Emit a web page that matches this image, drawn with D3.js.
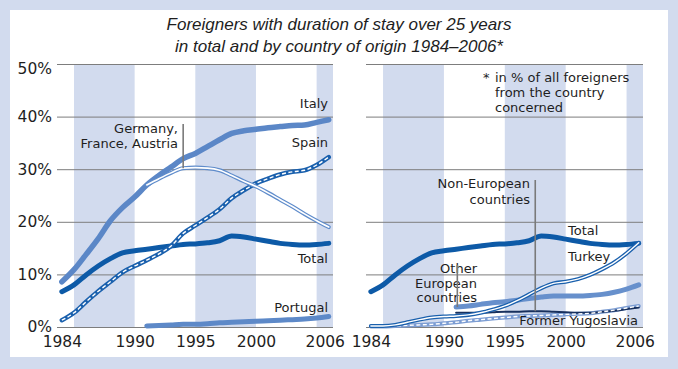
<!DOCTYPE html>
<html>
<head>
<meta charset="utf-8">
<script src="https://cdn.jsdelivr.net/npm/d3@7/dist/d3.min.js"></script>
<style>
body { margin: 0; background: #d2dbee; }
text { font-family: "DejaVu Sans", sans-serif; fill: #1e1e1e; }
</style>
</head>
<body>
<svg id="chart" width="678" height="369"></svg>
<script>
// data (percent of all foreigners from the country)
var years   = [1984,1985,1986,1987,1988,1989,1990,1991,1992,1993,1994,1995,1996,1997,1998,1999,2000,2001,2002,2003,2004,2005,2006];
var years91 = [1991,1992,1993,1994,1995,1996,1997,1998,1999,2000,2001,2002,2003,2004,2005,2006];
var yearTicks = [1984,1990,1995,2000,2006];
var pctTicks  = [0,10,20,30,40,50];
var bandStart = [1985,1995,2005];
var bandEnd   = [1990,2000,2006.35];

var italy    = [8.6,10.9,13.8,16.8,20.2,22.7,24.7,27.0,28.8,30.4,32.0,33.0,34.3,35.6,36.8,37.3,37.6,37.9,38.1,38.3,38.4,38.9,39.4];
var germany  = [27.0,28.2,29.3,30.2,30.3,30.2,29.8,28.8,27.7,26.7,25.5,24.2,22.9,21.5,20.2,19.0]; // Germany, France, Austria (from 1991)
var spain    = [1.3,2.7,4.8,6.8,8.6,10.4,11.6,12.7,13.9,15.4,17.8,19.3,20.8,22.4,24.5,26.0,27.3,28.2,29.0,29.5,29.8,30.8,32.3];
var total    = [6.7,8.0,9.9,11.6,13.0,14.1,14.5,14.8,15.1,15.4,15.7,15.8,16.0,16.4,17.3,17.1,16.7,16.3,15.9,15.7,15.6,15.7,15.9];
var portugal = [0.2,0.3,0.4,0.5,0.5,0.6,0.8,0.9,1.0,1.1,1.2,1.3,1.4,1.5,1.7,2.0]; // from 1991

var turkey   = [0.2,0.2,0.4,0.9,1.4,1.8,2.0,2.1,2.3,2.7,3.3,4.0,5.0,6.2,7.4,8.3,8.6,9.1,9.9,11.0,12.3,14.0,16.0];
var otherEur = [3.8,4.0,4.3,4.6,4.8,5.1,5.4,5.7,5.9,5.9,5.9,6.0,6.2,6.6,7.2,8.0]; // from 1991
var nonEur   = [2.7,2.7,2.7,2.8,2.9,2.9,3.0,3.0,2.9,2.8,2.7,2.7,2.9,3.1,3.4,3.7]; // from 1991
var yugo     = [0.1,0.1,0.2,0.3,0.4,0.5,0.7,0.9,1.2,1.4,1.6,1.8,2.0,2.1,2.2,2.3,2.4,2.5,2.6,2.9,3.2,3.6,4.0];

var svg = d3.select("#chart");
var bandColor = "#d2dbee";

// white inner card
svg.append("rect").attr("x", 10).attr("y", 10).attr("width", 658).attr("height", 347).attr("fill", "#fff");

// title
var title = svg.append("text")
  .attr("text-anchor", "middle")
  .style("font-family", "'Liberation Sans', sans-serif")
  .style("font-style", "italic")
  .style("font-size", "17px")
  .attr("fill", "#111");
title.append("tspan").attr("x", 339).attr("y", 30).text("Foreigners with duration of stay over 25 years");
title.append("tspan").attr("x", 339).attr("y", 52).text("in total and by country of origin 1984–2006*");

var y = d3.scaleLinear().domain([0, 50]).range([327, 64]);
var xL = d3.scaleLinear().domain([1983.6, 2006.35]).range([57, 333]);
var xR = d3.scaleLinear().domain([1983.6, 2006.35]).range([366, 643]);

function panel(x, labels) {
  var g = svg.append("g");
  var w = x.range()[1] - x.range()[0];

  g.selectAll(".band")
    .data(bandStart)
    .enter().append("rect")
      .attr("class", "band")
      .attr("x", function(d) { return x(d); })
      .attr("y", y(50))
      .attr("width", function(d, i) { return x(bandEnd[i]) - x(d); })
      .attr("height", y(0) - y(50))
      .attr("fill", bandColor);

  var ax = g.append("g")
    .attr("transform", "translate(" + x.range()[0] + ",0)")
    .call(d3.axisLeft(y).tickValues(pctTicks).tickSize(-w).tickPadding(5)
      .tickFormat(labels ? function(d) { return d + "%"; } : ""));
  ax.select(".domain").remove();
  ax.selectAll("line").attr("stroke", "#7d7d7d").attr("stroke-width", 1);
  ax.selectAll("text").style("font-size", "15.5px").attr("fill", "#1e1e1e")
    .style("font-family", "'DejaVu Sans', sans-serif");
  ax.selectAll("text").filter(function(d) { return d === 50; }).attr("y", 5);

  var bx = g.append("g")
    .attr("transform", "translate(0," + y(0) + ")")
    .call(d3.axisBottom(x).tickValues(yearTicks).tickSize(0).tickPadding(9).tickFormat(d3.format("d")));
  bx.select(".domain").remove();
  bx.selectAll("text").style("font-size", "15.5px").attr("fill", "#1e1e1e")
    .style("font-family", "'DejaVu Sans', sans-serif");
  bx.selectAll("text").filter(function(d) { return d === 2006; }).attr("dx", -4);
  return g;
}

function series(g, x, yrs, vals, strokes) {
  var pts = yrs.map(function(yr, i) { return [yr, vals[i]]; });
  var line = d3.line()
    .x(function(d) { return x(d[0]); })
    .y(function(d) { return y(d[1]); })
    .curve(d3.curveMonotoneX);
  strokes.forEach(function(s) {
    g.append("path")
      .datum(pts)
      .attr("d", line)
      .attr("fill", "none")
      .attr("stroke", s.c)
      .attr("stroke-width", s.w)
      .attr("stroke-linecap", s.dash ? "butt" : "round")
      .attr("stroke-linejoin", "round")
      .attr("stroke-dasharray", s.dash || null);
  });
}

function label(g, x, yy, lines, anchor, lh) {
  var t = g.append("text").attr("text-anchor", anchor).style("font-size", "13px");
  lines.forEach(function(s, i) {
    t.append("tspan").attr("x", x).attr("y", yy + i * (lh || 15)).text(s);
  });
}

function pointer(g, x, y1, y2) {
  g.append("line").attr("x1", x).attr("x2", x).attr("y1", y1).attr("y2", y2)
    .attr("stroke", "#7a7a7a").attr("stroke-width", 1.6);
}

// left panel
var gl = panel(xL, true);
series(gl, xL, years91, portugal, [{c: "#5d89c8", w: 5}]);
series(gl, xL, years, total, [{c: "#0d5aa7", w: 5}]);
series(gl, xL, years, italy, [{c: "#5b87c7", w: 5.5}]);
series(gl, xL, years, spain, [{c: "#1a60ad", w: 4.5}, {c: "#fff", w: 1.4, dash: "4,2.5"}]);
series(gl, xL, years91, germany, [{c: "#5f8ccb", w: 4}, {c: "#fff", w: 1.6}]);

label(gl, 328, 108, ["Italy"], "end");
label(gl, 328, 147, ["Spain"], "end");
label(gl, 178, 133, ["Germany,", "France, Austria"], "end");
pointer(gl, xL(1994), 124, y(germany[3]));
label(gl, 328, 263, ["Total"], "end");
label(gl, 328, 312, ["Portugal"], "end");

// right panel
var gr = panel(xR, false);
series(gr, xR, years, yugo, [{c: "#7c9dd3", w: 4}]);
series(gr, xR, years91, nonEur, [{c: "#17305e", w: 2}]);
series(gr, xR, years, yugo, [{c: "#fff", w: 1.4, dash: "4,2.5"}]);
series(gr, xR, years91, otherEur, [{c: "#6790cc", w: 5}]);
series(gr, xR, years, total, [{c: "#0d5aa7", w: 5}]);
series(gr, xR, years, turkey, [{c: "#1a60ad", w: 4}, {c: "#fff", w: 1.4}]);

label(gr, 483, 82, ["*"], "start");
label(gr, 495, 82, ["in % of all foreigners", "from the country", "concerned"], "start");
label(gr, 530, 188, ["Non-European", "countries"], "end", 16);
pointer(gr, xR(1997.5), 180, y(3.0));
label(gr, 568, 235, ["Total"], "start");
label(gr, 568, 261, ["Turkey"], "start");
label(gr, 477, 273, ["Other", "European", "countries"], "end", 14.5);
pointer(gr, xR(1991.1), 265, y(otherEur[0]));
label(gr, 638, 325, ["Former Yugoslavia"], "end");
</script>
</body>
</html>
